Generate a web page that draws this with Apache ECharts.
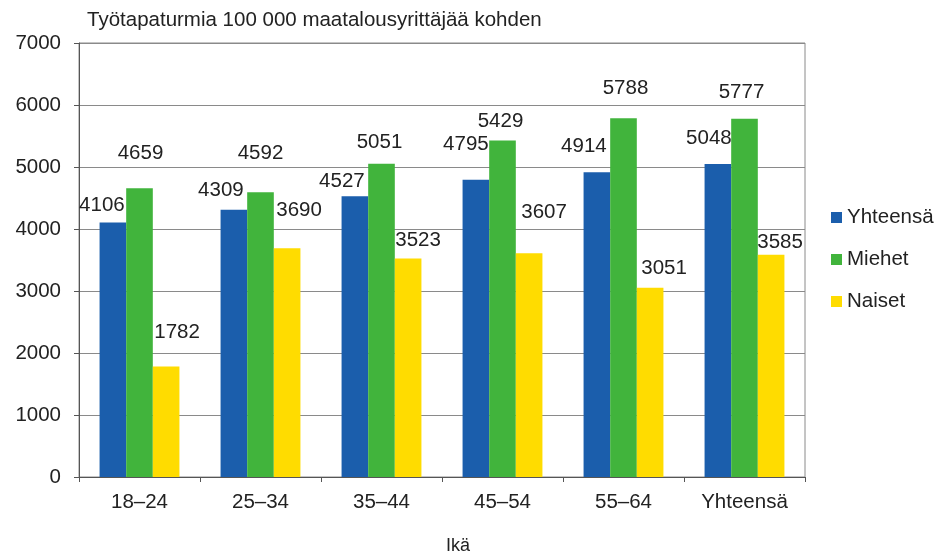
<!DOCTYPE html>
<html>
<head>
<meta charset="utf-8">
<script src="https://cdn.jsdelivr.net/npm/echarts@6/dist/echarts.min.js"></script>
<style>
html,body{margin:0;padding:0;background:#fff;}
#chart{width:941px;height:558px;}
</style>
</head>
<body>
<div id="chart"></div>
<script>
const categories = ['18–24', '25–34', '35–44', '45–54', '55–64', 'Yhteensä'];
const yhteensa = [4106, 4309, 4527, 4795, 4914, 5048];
const miehet = [4659, 4592, 5051, 5429, 5788, 5777];
const naiset = [1782, 3690, 3523, 3607, 3051, 3585];
const seriesNames = ['Yhteensä', 'Miehet', 'Naiset'];
const yTicks = [0, 1000, 2000, 3000, 4000, 5000, 6000, 7000];
const titleText = 'Työtapaturmia 100 000 maatalousyrittäjää kohden';
const xAxisTitle = 'Ikä';

// label nudges (style only), as in the reference layout
const labelShift = [
  [[-11,-7],[-13,-9],[-13,-4],[-10,-25],[-13,-15],[-9,-15]],
  [[1,-24],[0,-28],[-2,-11],[-2,-9],[2,-19],[-3,-16]],
  [[11,-24],[12,-27],[10,-8],[15,-31],[14,-9],[9,-2]]
];
const colors = ['#1B5EAC', '#41B43C', '#FFDC00'];
const FONT = 'Liberation Sans, Arial, sans-serif';
const FS = 20.5;

const chart = echarts.init(document.getElementById('chart'), null, {renderer: 'canvas'});

function mk(idx, vals) {
  return {
    name: seriesNames[idx],
    type: 'bar',
    barGap: '0%',
    barCategoryGap: '34%',
    itemStyle: {color: colors[idx]},
    label: {
      show: true, position: 'top', distance: 0,
      color: '#222', fontFamily: FONT, fontSize: FS
    },
    data: vals.map((v, i) => ({value: v, label: {offset: labelShift[idx][i]}}))
  };
}

chart.setOption({
  animation: false,
  backgroundColor: '#fff',
  textStyle: {fontFamily: FONT},
  title: {
    text: titleText, left: 82, top: 5,
    textStyle: {fontFamily: FONT, fontSize: 20.5, fontWeight: 'normal', color: '#222'}
  },
  legend: {
    orient: 'vertical', left: 826, top: 202,
    itemWidth: 11, itemHeight: 11, itemGap: 21,
    icon: 'rect',
    textStyle: {fontFamily: FONT, fontSize: FS, color: '#222', padding: [0,0,0,0]},
    data: seriesNames
  },
  graphic: [{
    type: 'text', left: 446, top: 537,
    style: {text: xAxisTitle, font: '18px ' + FONT, fill: '#222'}
  }],
  grid: {
    left: 79, right: 136, top: 43, bottom: 81,
    show: true, borderColor: '#8a8a8a', borderWidth: 1
  },
  xAxis: {
    type: 'category', data: categories,
    axisLine: {lineStyle: {color: '#555', width: 1}},
    axisTick: {show: true, length: 5, lineStyle: {color: '#555'}},
    axisLabel: {fontFamily: FONT, fontSize: FS, color: '#222', margin: 15}
  },
  yAxis: {
    type: 'value', min: yTicks[0], max: yTicks[yTicks.length - 1], interval: 1000,
    axisLine: {show: true, lineStyle: {color: '#555', width: 1}},
    axisTick: {show: true, length: 5, lineStyle: {color: '#555'}},
    splitLine: {lineStyle: {color: '#8a8a8a', width: 1}},
    axisLabel: {fontFamily: FONT, fontSize: FS, color: '#222', margin: 18,
      formatter: v => String(v)}
  },
  series: [mk(0, yhteensa), mk(1, miehet), mk(2, naiset)]
});
</script>
</body>
</html>
